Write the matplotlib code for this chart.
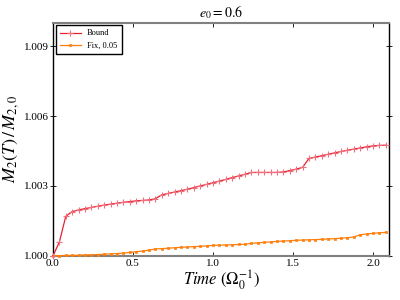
import matplotlib
matplotlib.use('Agg')
import matplotlib.pyplot as plt

plt.rcParams['font.family'] = ['Liberation Serif', 'DejaVu Serif']
plt.rcParams['mathtext.fontset'] = 'stix'

# time grid (Omega_0^-1)
t = [0.00, 0.04, 0.08, 0.12, 0.16, 0.20, 0.24, 0.28, 0.32, 0.36,
     0.40, 0.44, 0.48, 0.52, 0.56, 0.60, 0.64, 0.68, 0.72, 0.76,
     0.80, 0.84, 0.88, 0.92, 0.96, 1.00, 1.04, 1.08, 1.12, 1.16,
     1.20, 1.24, 1.28, 1.32, 1.36, 1.40, 1.44, 1.48, 1.52, 1.56,
     1.60, 1.64, 1.68, 1.72, 1.76, 1.80, 1.84, 1.88, 1.92, 1.96,
     2.00, 2.04, 2.08]

bound = [1.00000, 1.00060, 1.00170, 1.00190, 1.00197, 1.00203, 1.00208, 1.00213, 1.00218, 1.00222,
         1.00226, 1.00230, 1.00233, 1.00236, 1.00238, 1.00240, 1.00245, 1.00262, 1.00268, 1.00274,
         1.00280, 1.00286, 1.00293, 1.00300, 1.00307, 1.00314, 1.00321, 1.00328, 1.00336, 1.00343,
         1.00350, 1.00358, 1.00358, 1.00358, 1.00358, 1.00358, 1.00360, 1.00366, 1.00372, 1.00380,
         1.00418, 1.00424, 1.00430, 1.00436, 1.00442, 1.00448, 1.00453, 1.00458, 1.00463, 1.00468,
         1.00472, 1.00474, 1.00475]

fix = [1.00001, 1.00001, 1.00002, 1.00002, 1.00003, 1.00004, 1.00005, 1.00006, 1.00007, 1.00009,
       1.00010, 1.00012, 1.00015, 1.00018, 1.00021, 1.00025, 1.00030, 1.00031, 1.00033, 1.00035,
       1.00037, 1.00038, 1.00040, 1.00041, 1.00043, 1.00045, 1.00046, 1.00047, 1.00048, 1.00049,
       1.00050, 1.00054, 1.00056, 1.00058, 1.00060, 1.00062, 1.00064, 1.00065, 1.00067, 1.00068,
       1.00069, 1.00070, 1.00071, 1.00073, 1.00074, 1.00076, 1.00078, 1.00081, 1.00091, 1.00094,
       1.00097, 1.00099, 1.00101]

xticks = [0.0, 0.5, 1.0, 1.5, 2.0]
yticks = [1.000, 1.003, 1.006, 1.009]

fig = plt.figure(figsize=(4, 3), dpi=100)
ax = fig.add_axes([0.1325, 0.147, 0.84, 0.777])

ax.plot(t, bound, color='#e8202e', lw=0.9, marker='+', ms=5, mew=0.8,
        mec='#f07080', label='Bound', clip_on=False, zorder=4)
ax.plot(t, fix, color='#ff7f0e', lw=0.9, marker='s', ms=2, mew=0.5,
        label='Fix, 0.05', clip_on=False, zorder=3)

ax.set_xlim(0, 2.1)
ax.set_ylim(1.0, 1.01)
ax.set_xticks(xticks)
ax.set_yticks(yticks)
ax.set_xticklabels(['0.0', '0.5', '1.0', '1.5', '2.0'])
ax.set_yticklabels(['1.000', '1.003', '1.006', '1.009'])
ax.tick_params(axis='x', direction='in', length=3, width=0.6, labelsize=8,
               top=True, pad=2)
ax.tick_params(axis='y', direction='inout', length=4, width=0.6, labelsize=8,
               right=True, pad=1)

for s in ['top', 'bottom']:
    ax.spines[s].set_color('#808080')
    ax.spines[s].set_linewidth(1.5)
for s in ['left', 'right']:
    ax.spines[s].set_color('black')
    ax.spines[s].set_linewidth(1.0)

ax.set_title(r'$e_0 = 0.6$', fontsize=10, pad=4)
ax.set_xlabel(r'$Time\ (\Omega_0^{-1})$', fontsize=12, labelpad=0)
ax.set_ylabel(r'$M_2(T)\,/\,M_{2,0}$', fontsize=13, labelpad=2)

leg = ax.legend(loc='upper left', fontsize=6, fancybox=False, framealpha=1,
                borderpad=0.5, handlelength=2.5, borderaxespad=0.3)
leg.get_frame().set_edgecolor('black')
leg.get_frame().set_linewidth(1.0)

fig.savefig('out.png', dpi=100)
